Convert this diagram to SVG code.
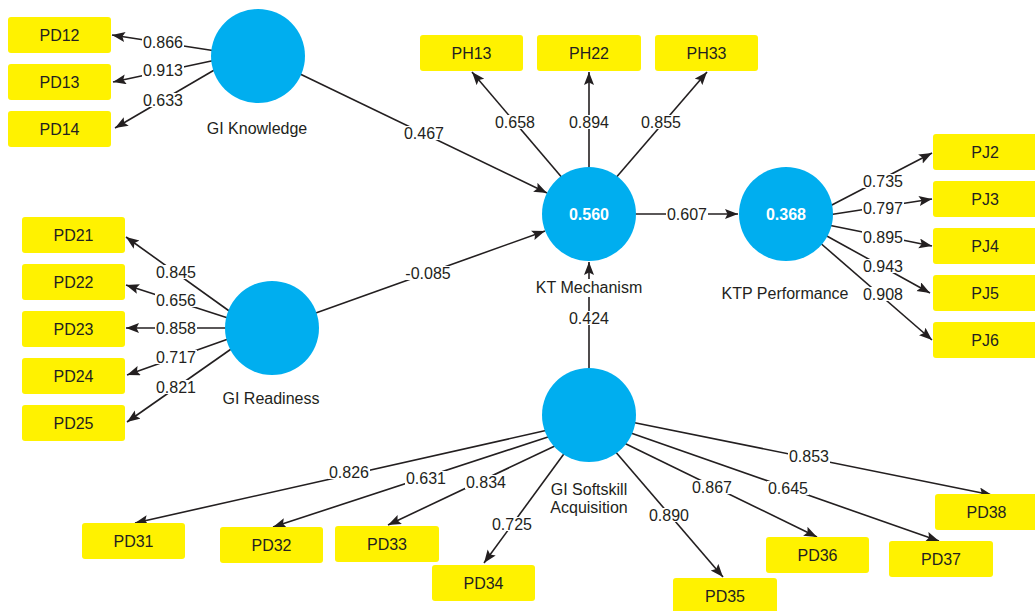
<svg xmlns="http://www.w3.org/2000/svg" width="1035" height="611" viewBox="0 0 1035 611">
<defs>
<marker id="ah" markerUnits="userSpaceOnUse" markerWidth="14" markerHeight="11" refX="13" refY="5" orient="auto">
<path d="M0,0 L13,5 L0,10 L2.5,5 z" fill="#231F20"/>
</marker>
<style>
.box{fill:#FFF200}
.bt{font-family:"Liberation Sans",Arial,sans-serif;font-size:16px;fill:#231F20;text-anchor:middle}
.lv{fill:#00AEEF}
.r2{font-family:"Liberation Sans",Arial,sans-serif;font-size:16px;font-weight:bold;fill:#FFFFFF;text-anchor:middle}
.nl{font-family:"Liberation Sans",Arial,sans-serif;font-size:16px;fill:#231F20;text-anchor:middle}
.ln{stroke:#231F20;stroke-width:1.6;fill:none;marker-end:url(#ah)}
.lb{fill:#FFFFFF}
.lt{font-family:"Liberation Sans",Arial,sans-serif;font-size:16px;fill:#231F20;text-anchor:middle}
</style>
</defs>
<rect width="1035" height="611" fill="#FFFFFF"/>

<g id="connectors">
<!-- GI Knowledge -->
<line class="ln" x1="216" y1="51" x2="112" y2="35"/>
<line class="ln" x1="216" y1="60" x2="113" y2="82"/>
<line class="ln" x1="216" y1="69" x2="115" y2="128"/>
<line class="ln" x1="298" y1="73" x2="547" y2="193"/>
<!-- GI Readiness -->
<line class="ln" x1="232" y1="313" x2="126" y2="237"/>
<line class="ln" x1="231" y1="319" x2="126" y2="285"/>
<line class="ln" x1="230" y1="328" x2="126" y2="328"/>
<line class="ln" x1="231" y1="338" x2="127" y2="375"/>
<line class="ln" x1="234" y1="347" x2="127" y2="422"/>
<line class="ln" x1="313" y1="314" x2="545" y2="231"/>
<!-- KT Mechanism -->
<line class="ln" x1="564" y1="180" x2="472" y2="72"/>
<line class="ln" x1="589" y1="172" x2="589" y2="72"/>
<line class="ln" x1="614" y1="180" x2="707" y2="72"/>
<line class="ln" x1="630" y1="214" x2="738" y2="214"/>
<!-- Softskill to KT -->
<line class="ln" x1="589" y1="372" x2="589" y2="262"/>
<!-- KTP Performance -->
<line class="ln" x1="828" y1="207" x2="932" y2="153"/>
<line class="ln" x1="828" y1="215" x2="932" y2="199"/>
<line class="ln" x1="828" y1="225" x2="932" y2="246"/>
<line class="ln" x1="825" y1="235" x2="930" y2="293"/>
<line class="ln" x1="818" y1="241" x2="932" y2="340"/>
<!-- GI Softskill Acquisition -->
<line class="ln" x1="548" y1="430" x2="135" y2="523"/>
<line class="ln" x1="551" y1="436" x2="273" y2="527"/>
<line class="ln" x1="557" y1="445" x2="388" y2="525"/>
<line class="ln" x1="566" y1="451" x2="484" y2="563"/>
<line class="ln" x1="614" y1="450" x2="723" y2="577"/>
<line class="ln" x1="622" y1="442" x2="817" y2="537"/>
<line class="ln" x1="628" y1="432" x2="939" y2="541"/>
<line class="ln" x1="631" y1="422" x2="992" y2="495"/>

<!-- labels -->
<g id="edge-labels">
<rect class="lb" x="142" y="35" width="42" height="14"/><text class="lt" x="163" y="48">0.866</text>
<rect class="lb" x="142" y="63" width="42" height="14"/><text class="lt" x="163" y="76">0.913</text>
<rect class="lb" x="142" y="93" width="42" height="14"/><text class="lt" x="163" y="106">0.633</text>
<rect class="lb" x="403" y="126" width="42" height="14"/><text class="lt" x="424" y="139">0.467</text>
<rect class="lb" x="404" y="266" width="48" height="14"/><text class="lt" x="428" y="279">-0.085</text>
<rect class="lb" x="155" y="265" width="42" height="14"/><text class="lt" x="176" y="278">0.845</text>
<rect class="lb" x="155" y="293" width="42" height="14"/><text class="lt" x="176" y="306">0.656</text>
<rect class="lb" x="155" y="321" width="42" height="14"/><text class="lt" x="176" y="334">0.858</text>
<rect class="lb" x="155" y="350" width="42" height="14"/><text class="lt" x="176" y="363">0.717</text>
<rect class="lb" x="155" y="380" width="42" height="14"/><text class="lt" x="176" y="393">0.821</text>
<rect class="lb" x="494" y="115" width="42" height="14"/><text class="lt" x="515" y="128">0.658</text>
<rect class="lb" x="568" y="115" width="42" height="14"/><text class="lt" x="589" y="128">0.894</text>
<rect class="lb" x="640" y="115" width="42" height="14"/><text class="lt" x="661" y="128">0.855</text>
<rect class="lb" x="666" y="207" width="42" height="14"/><text class="lt" x="687" y="220">0.607</text>
<rect class="lb" x="568" y="311" width="42" height="14"/><text class="lt" x="589" y="324">0.424</text>
<rect class="lb" x="862" y="174" width="42" height="14"/><text class="lt" x="883" y="187">0.735</text>
<rect class="lb" x="862" y="201" width="42" height="14"/><text class="lt" x="883" y="214">0.797</text>
<rect class="lb" x="862" y="230" width="42" height="14"/><text class="lt" x="883" y="243">0.895</text>
<rect class="lb" x="862" y="259" width="42" height="14"/><text class="lt" x="883" y="272">0.943</text>
<rect class="lb" x="862" y="287" width="42" height="14"/><text class="lt" x="883" y="300">0.908</text>
<rect class="lb" x="328" y="465" width="42" height="14"/><text class="lt" x="349" y="478">0.826</text>
<rect class="lb" x="405" y="471" width="42" height="14"/><text class="lt" x="426" y="484">0.631</text>
<rect class="lb" x="465" y="475" width="42" height="14"/><text class="lt" x="486" y="488">0.834</text>
<rect class="lb" x="491" y="517" width="42" height="14"/><text class="lt" x="512" y="530">0.725</text>
<rect class="lb" x="648" y="508" width="42" height="14"/><text class="lt" x="669" y="521">0.890</text>
<rect class="lb" x="691" y="480" width="42" height="14"/><text class="lt" x="712" y="493">0.867</text>
<rect class="lb" x="767" y="481" width="42" height="14"/><text class="lt" x="788" y="494">0.645</text>
<rect class="lb" x="788" y="449" width="42" height="14"/><text class="lt" x="809" y="462">0.853</text>
</g>
</g>

<g id="GI_Knowledge"><circle class="lv" cx="258" cy="56" r="47"/><text class="nl" x="257" y="134">GI Knowledge</text></g>
<g id="GI_Readiness"><circle class="lv" cx="272" cy="328" r="47"/><text class="nl" x="271" y="404">GI Readiness</text></g>
<g id="KT_Mechanism"><circle class="lv" cx="589" cy="214" r="47"/><text class="r2" x="589" y="220">0.560</text><rect class="lb" x="534" y="279" width="110" height="18"/><text class="nl" x="589" y="293">KT Mechanism</text></g>
<g id="KTP_Performance"><circle class="lv" cx="786" cy="214" r="47"/><text class="r2" x="786" y="220">0.368</text><text class="nl" x="785" y="299">KTP Performance</text></g>
<g id="GI_Softskill"><circle class="lv" cx="589" cy="415" r="47"/><text class="nl" x="589" y="495">GI Softskill</text><text class="nl" x="589" y="513">Acquisition</text></g>

<g id="PD12"><rect class="box" x="8" y="17" width="103" height="36" rx="3"/><text class="bt" x="59.5" y="41">PD12</text></g>
<g id="PD13"><rect class="box" x="8" y="64" width="103" height="36" rx="3"/><text class="bt" x="59.5" y="88">PD13</text></g>
<g id="PD14"><rect class="box" x="8" y="111" width="103" height="36" rx="3"/><text class="bt" x="59.5" y="135">PD14</text></g>
<g id="PD21"><rect class="box" x="22" y="217" width="103" height="36" rx="3"/><text class="bt" x="73.5" y="241">PD21</text></g>
<g id="PD22"><rect class="box" x="22" y="264" width="103" height="36" rx="3"/><text class="bt" x="73.5" y="288">PD22</text></g>
<g id="PD23"><rect class="box" x="22" y="311" width="103" height="36" rx="3"/><text class="bt" x="73.5" y="335">PD23</text></g>
<g id="PD24"><rect class="box" x="22" y="358" width="103" height="36" rx="3"/><text class="bt" x="73.5" y="382">PD24</text></g>
<g id="PD25"><rect class="box" x="22" y="405" width="103" height="36" rx="3"/><text class="bt" x="73.5" y="429">PD25</text></g>
<g id="PH13"><rect class="box" x="420" y="35" width="103" height="36" rx="3"/><text class="bt" x="471.5" y="59">PH13</text></g>
<g id="PH22"><rect class="box" x="537" y="35" width="104" height="36" rx="3"/><text class="bt" x="589" y="59">PH22</text></g>
<g id="PH33"><rect class="box" x="655" y="35" width="103" height="36" rx="3"/><text class="bt" x="706.5" y="59">PH33</text></g>
<g id="PJ2"><rect class="box" x="933" y="134" width="104" height="36" rx="3"/><text class="bt" x="985" y="158">PJ2</text></g>
<g id="PJ3"><rect class="box" x="933" y="181" width="104" height="36" rx="3"/><text class="bt" x="985" y="205">PJ3</text></g>
<g id="PJ4"><rect class="box" x="933" y="228" width="104" height="36" rx="3"/><text class="bt" x="985" y="252">PJ4</text></g>
<g id="PJ5"><rect class="box" x="933" y="275" width="104" height="36" rx="3"/><text class="bt" x="985" y="299">PJ5</text></g>
<g id="PJ6"><rect class="box" x="933" y="322" width="104" height="36" rx="3"/><text class="bt" x="985" y="346">PJ6</text></g>
<g id="PD31"><rect class="box" x="82" y="523" width="103" height="36" rx="3"/><text class="bt" x="133.5" y="547">PD31</text></g>
<g id="PD32"><rect class="box" x="220" y="527" width="103" height="36" rx="3"/><text class="bt" x="271.5" y="551">PD32</text></g>
<g id="PD33"><rect class="box" x="335" y="526" width="104" height="36" rx="3"/><text class="bt" x="387" y="550">PD33</text></g>
<g id="PD34"><rect class="box" x="432" y="565" width="103" height="36" rx="3"/><text class="bt" x="483.5" y="589">PD34</text></g>
<g id="PD35"><rect class="box" x="673" y="578" width="104" height="36" rx="3"/><text class="bt" x="725" y="602">PD35</text></g>
<g id="PD36"><rect class="box" x="766" y="537" width="103" height="36" rx="3"/><text class="bt" x="817.5" y="561">PD36</text></g>
<g id="PD37"><rect class="box" x="889" y="541" width="104" height="36" rx="3"/><text class="bt" x="941" y="565">PD37</text></g>
<g id="PD38"><rect class="box" x="935" y="494" width="104" height="36" rx="3"/><text class="bt" x="986.5" y="518">PD38</text></g>
</svg>
